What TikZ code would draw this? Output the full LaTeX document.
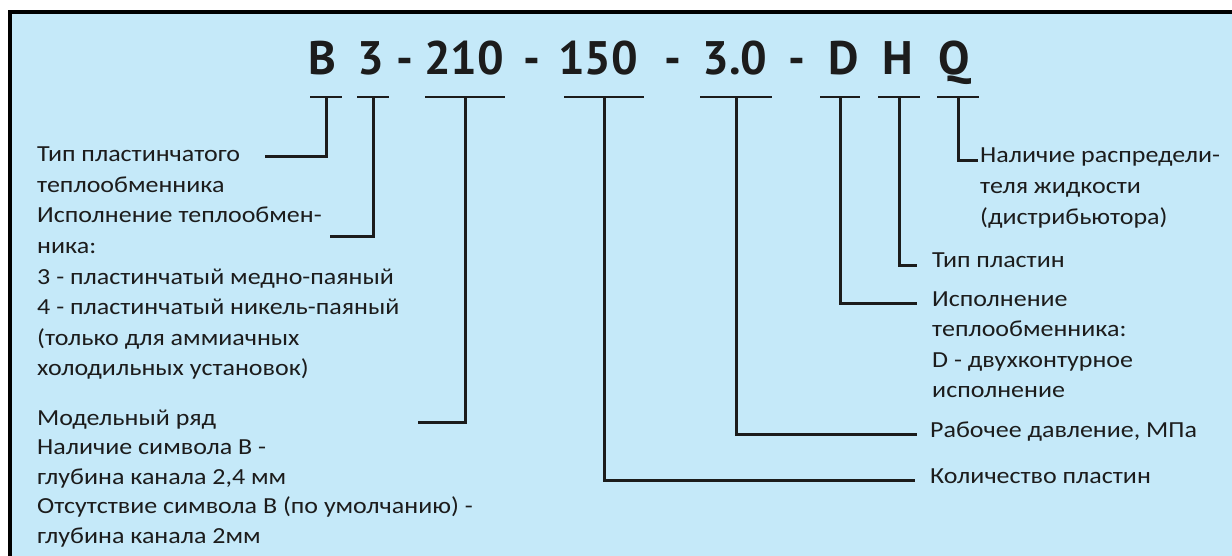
\documentclass[tikz,border=0pt]{standalone}
\usepackage{fontspec}
\setmainfont[FakeStretch=1.13]{Carlito}
\newfontfamily\codefont{PT Sans}
\usetikzlibrary{positioning}

\definecolor{panel}{RGB}{197,233,249}
\definecolor{ink}{RGB}{28,28,28}

\tikzset{
  txt/.style={font=\fontsize{23}{28}\selectfont, text=ink, inner sep=0pt, anchor=base west},
  code/.style={font=\codefont\bfseries\fontsize{47}{50}\selectfont, text=ink, inner sep=0pt, anchor=base},
  bar/.style={line width=2pt, draw=ink},
  lead/.style={line width=3pt, draw=ink},
}

\begin{document}
\begin{tikzpicture}[x=1pt, y=-1pt]
  \useasboundingbox (0,0) rectangle (1232,556);
  \fill[panel] (10,12) rectangle (1232,556);
  \draw[line width=4pt] (10,556) -- (10,12) -- (1232,12);

  % marking string
  \foreach \n/\t/\x in {B/B/322, 3/3/371, d1/-/405, 210/210/464, d2/-/532,
      150/150/598, d3/-/673, 30/3.0/735, d4/-/797, D/D/844, H/H/898, Q/Q/954}
    \node[code] (g\n) at (\x,75) {\t};

  % bars under the groups
  \foreach \n/\x/\w in {B/326/16, 3/373/16, 210/465/40, 150/604/40,
      30/736/36, D/840/20, H/899/21, Q/958/21} {
    \coordinate (t\n) at (\x,97);
    \draw[bar] ([xshift=-\w]t\n) -- ([xshift=\w]t\n);
  }

  % left texts
  \foreach \k/\t in {1/Тип пластинчатого, 2/теплообменника, 3/Исполнение теплообмен-,
      4/ника:, 5/3 - пластинчатый медно-паяный, 6/4 - пластинчатый никель-паяный,
      7/(только для аммиачных, 8/холодильных установок)}
    \node[txt] (l\k) at (37,{162+30.5*(\k-1)}) {\t};
  \foreach \k/\t in {1/Модельный ряд, 2/Наличие символа B -, 3/{глубина канала 2,4 мм},
      4/Отсутствие символа B (по умолчанию) -, 5/глубина канала 2мм}
    \node[txt] (m\k) at (37,{425+29.5*(\k-1)}) {\t};

  % right texts
  \foreach \k/\t in {1/Наличие распредели-, 2/теля жидкости, 3/(дистрибьютора)}
    \node[txt] (q\k) at (980,{163+31*(\k-1)}) {\t};
  \node[txt] (h1) at (932,268) {Тип пластин};
  \foreach \k/\t in {1/Исполнение, 2/теплообменника:, 3/D - двухконтурное, 4/исполнение}
    \node[txt] (d\k) at (932,{306+30.5*(\k-1)}) {\t};
  \node[txt] (p1) at (930,437) {Рабочее давление, МПа};
  \node[txt] (n1) at (930,483) {Количество пластин};

  % free ends of the leaders
  \coordinate (eB) at (265,157);
  \coordinate (e3) at (330,237);
  \coordinate (e210) at (418,422);
  \coordinate (eQ) at ([xshift=-2]q1.mid west);
  \coordinate (eH) at ([xshift=-15]h1.mid west);
  \coordinate (eD) at ([xshift=-15]d1.mid west);
  \coordinate (e30) at ([xshift=-13]p1.mid west);
  \coordinate (e150) at ([xshift=-15]n1.mid west);

  \foreach \n in {B, 3, 210, 150, 30, D, H, Q}
    \draw[lead] (t\n) |- (e\n);
\end{tikzpicture}
\end{document}
